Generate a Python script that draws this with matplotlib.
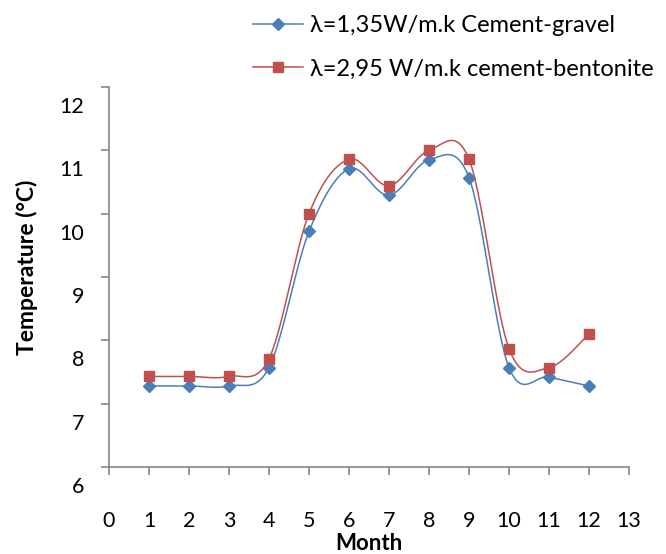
import numpy as np
import matplotlib
matplotlib.use('Agg')
import matplotlib.pyplot as plt
import matplotlib.transforms as mtransforms

plt.rcParams['font.family'] = ['Lato', 'DejaVu Sans']

months = [1, 2, 3, 4, 5, 6, 7, 8, 9, 10, 11, 12]
gravel = [7.28, 7.28, 7.28, 7.57, 9.72, 10.71, 10.29, 10.85, 10.57, 7.57, 7.42, 7.28]
bentonite = [7.43, 7.43, 7.43, 7.71, 10.0, 10.86, 10.44, 11.0, 10.86, 7.87, 7.57, 8.10]
label_gravel = 'λ=1,35W/m.k Cement-gravel'
label_bent = 'λ=2,95 W/m.k cement-bentonite'

blue = '#4A7EBB'
red = '#C0504D'
grey = '#868686'


def smooth(x, y, n=30):
    # excel-like smoothed line: bezier segments with catmull-rom control points
    x = np.asarray(x, float)
    y = np.asarray(y, float)
    px = np.concatenate([[x[0]], x, [x[-1]]])
    py = np.concatenate([[y[0]], y, [y[-1]]])
    t = np.linspace(0, 1, n)[:, None]
    xs, ys = [], []
    for i in range(1, len(px) - 2):
        p0 = np.array([px[i], py[i]])
        p3 = np.array([px[i + 1], py[i + 1]])
        c1 = p0 + (np.array([px[i + 1], py[i + 1]]) - np.array([px[i - 1], py[i - 1]])) / 6
        c2 = p3 - (np.array([px[i + 2], py[i + 2]]) - np.array([px[i], py[i]])) / 6
        pts = ((1 - t) ** 3) * p0 + 3 * ((1 - t) ** 2) * t * c1 + 3 * (1 - t) * t ** 2 * c2 + t ** 3 * p3
        xs.append(pts[:, 0])
        ys.append(pts[:, 1])
    return np.concatenate(xs), np.concatenate(ys)


fig = plt.figure(figsize=(6.66, 5.54), dpi=100)
ax = fig.add_axes([109 / 666, 1 - 467 / 554, 520 / 666, 380 / 554])

for vals, c, m, ms, lab in [(gravel, blue, 'D', 6, label_gravel),
                            (bentonite, red, 's', 7, label_bent)]:
    sx, sy = smooth(months, vals)
    ax.plot(sx, sy, color=c, lw=1.1)
    ax.plot(months, vals, ls='none', marker=m, ms=ms, color=c)
    ax.plot([], [], color=c, lw=1.1, marker=m, ms=ms, label=lab)

ax.set_xlim(0, 13)
ax.set_ylim(6, 12)
ax.set_xticks(range(0, 14))
ax.set_yticks(range(6, 13))

for s in ['top', 'right']:
    ax.spines[s].set_visible(False)
for s in ['left', 'bottom']:
    ax.spines[s].set_color(grey)
    ax.spines[s].set_linewidth(1.2)

ax.tick_params(axis='both', colors=grey, length=6, width=1.2, labelcolor='black', labelsize=15.5)
ax.tick_params(axis='x', pad=26)
ax.tick_params(axis='y', pad=12)

offset = mtransforms.ScaledTranslation(0, -18 / 100, fig.dpi_scale_trans)
for tick in ax.yaxis.get_major_ticks():
    tick.label1.set_transform(tick.label1.get_transform() + offset)

ax.set_xlabel('Month', fontsize=16, fontweight='bold')
ax.set_ylabel('Temperature (°C)', fontsize=16.5, fontweight='bold')
ax.xaxis.set_label_coords(0.5, -(554 - 467) / 380)
ax.yaxis.set_label_coords(-(109 - 38) / 520, 0.526)
ax.xaxis.label.set_va('bottom')

fig.legend(loc='upper left', bbox_to_anchor=(253 / 666, 1 - 15 / 554), frameon=False,
           borderaxespad=0, borderpad=0,
           fontsize=17, handlelength=2.1, handletextpad=0.3, labelspacing=0.95)

fig.savefig('out.png', dpi=100)
